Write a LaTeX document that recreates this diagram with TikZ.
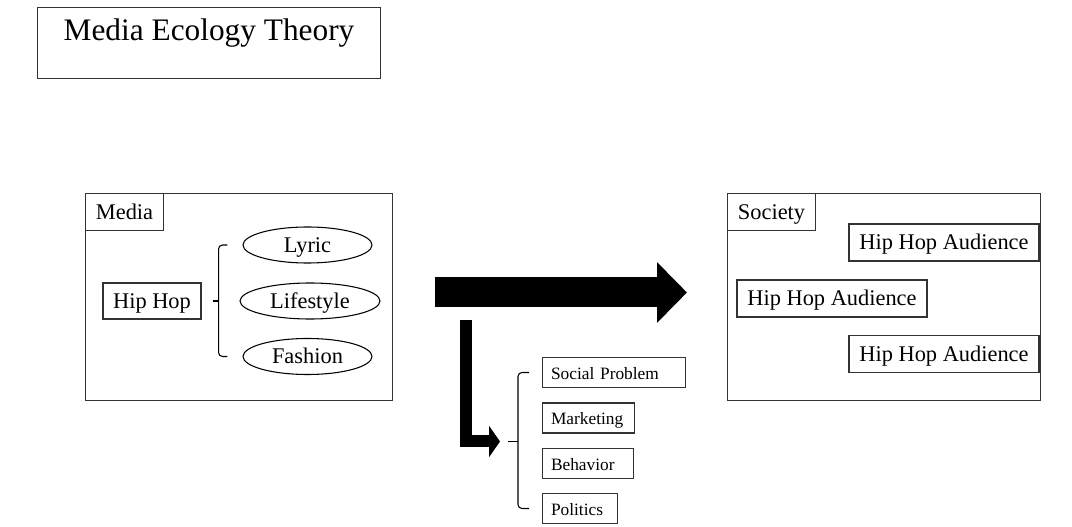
\documentclass[tikz,border=0pt]{standalone}
\usepackage{fontspec}
\setmainfont{Liberation Serif}
\usetikzlibrary{arrows.meta,positioning,shapes.geometric,calc}

\begin{document}
\begin{tikzpicture}[
  x=0.75pt, y=-0.75pt,
  every node/.style={font=\fontsize{16.8}{20}\selectfont, text height=12.6pt, text depth=2pt},
  frame/.style={draw=black!80, line width=0.8pt, inner sep=0pt},
  box/.style={draw=black!80, line width=0.8pt, inner sep=0pt, minimum height=27.75pt},
  oval/.style={ellipse, draw=black, line width=0.8pt, inner sep=0pt,
               minimum width=96.75pt, minimum height=27pt},
  tag/.style={draw=black!80, line width=0.8pt, inner xsep=6.75pt, inner ysep=0pt,
              minimum height=22.5pt, align=left, anchor=west,
              font=\fontsize{13}{15}\selectfont, text height=10.4pt, text depth=0pt},
  brace/.style={line width=0.8pt, rounded corners=3pt},
  big/.style={line width=22.5pt, -{Triangle[length=22.5pt,width=44.25pt]}},
]
\useasboundingbox (0,0) rectangle (1072,527);

% Title
\node[frame, anchor=north west, minimum width=257.25pt, inner ysep=0pt,
      text height=25pt, text depth=28.25pt, font=\fontsize{23.5}{28}\selectfont]
  (title) at (37,7) {Media Ecology Theory};

% Left frame: media
\node[frame, anchor=north west, minimum width=230.25pt, minimum height=155.25pt]
  (media) at (85,193) {};
\node[box, anchor=north west, minimum width=58.5pt] (medialbl) at (media.north west) {Media};
\node[box, minimum width=73.5pt, minimum height=27pt] (hiphop) at (152,301) {Hip Hop};
\node[oval] (lyric) at (307.5,245) {Lyric};
\node[oval, minimum width=105pt] (life) at (310,301) {Lifestyle};
\node[oval] (fashion) at (307.5,356.5) {Fashion};
\draw[brace] ($(lyric.west)+(-15,0)$) -| ($(hiphop.east)+(17,0)$)
  |- ($(fashion.west)+(-15,0)$);
\draw[line width=0.8pt] ($(hiphop.east)+(11,0)$) -- ($(hiphop.east)+(17,0)$);

% Right frame: society
\node[frame, anchor=north west, minimum width=234.75pt, minimum height=155.25pt]
  (society) at (727,193) {};
\node[box, anchor=north west, minimum width=66pt] (societylbl) at (society.north west) {Society};
\node[box, minimum width=142.5pt] (aud1) at (944,242.5) {Hip Hop Audience};
\node[box, minimum width=142.5pt] (aud2) at (832,298.5) {Hip Hop Audience};
\node[box, minimum width=142.5pt] (aud3) at (944,354) {Hip Hop Audience};

% Block arrows
\coordinate (flowstart) at (435,292.5);
\coordinate (flowend) at (687,292.5);
\draw[big] (flowstart) -- (flowend);
\coordinate (effstart) at (465.5,320);
\coordinate (effend) at (500,441.5);
\draw[line width=9pt, line join=miter, -{Triangle[length=8.25pt,width=23.25pt]}]
  (effstart) |- (effend);

% Effects
\node[tag, text width=93.75pt] (social) at (541.5,372.5) {Social Problem};
\node[tag, text width=55.5pt] (marketing) at (541.5,418) {Marketing};
\node[tag, text width=54.75pt] (behavior) at (541.5,463.5) {Behavior};
\node[tag, text width=42.75pt] (politics) at (541.5,508.5) {Politics};
\draw[brace] ($(social.west)+(-12.5,0)$) -| ($(effend)+(18,0)$)
  |- ($(politics.west)+(-12.5,0)$);
\draw[line width=0.8pt] ($(effend)+(8,0)$) -- ($(effend)+(18,0)$);
\end{tikzpicture}
\end{document}
